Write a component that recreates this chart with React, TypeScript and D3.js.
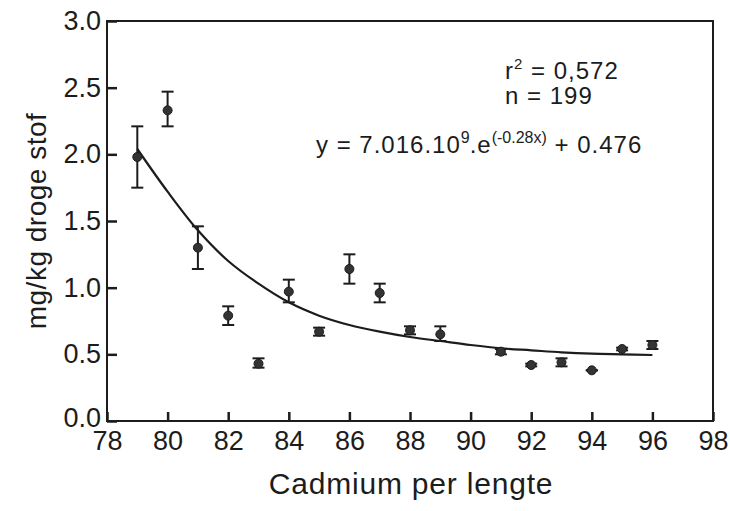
import React, { useRef, useEffect } from "react";
import * as d3 from "d3";

// mean values per length class
const lengths = [79, 80, 81, 82, 83, 84, 85, 86, 87, 88, 89, 91, 92, 93, 94, 95, 96];
const means = [1.98, 2.33, 1.3, 0.79, 0.43, 0.97, 0.67, 1.14, 0.96, 0.68, 0.65, 0.52, 0.42, 0.44, 0.38, 0.54, 0.57];
const upper = [2.21, 2.47, 1.46, 0.86, 0.47, 1.06, 0.7, 1.25, 1.03, 0.71, 0.71, 0.54, 0.43, 0.47, 0.38, 0.55, 0.6];
const lower = [1.75, 2.21, 1.14, 0.72, 0.4, 0.89, 0.64, 1.03, 0.89, 0.65, 0.6, 0.5, 0.41, 0.41, 0.38, 0.53, 0.54];

// fitted exponential curve as drawn
const fitX = [79, 80, 81, 82, 83, 84, 85, 86, 87, 88, 89, 90, 91, 92, 93, 94, 95, 96];
const fitY = [2.04, 1.72, 1.43, 1.2, 1.03, 0.89, 0.79, 0.72, 0.67, 0.63, 0.6, 0.57, 0.545, 0.53, 0.515, 0.505, 0.5, 0.495];

const xTicks = [78, 80, 82, 84, 86, 88, 90, 92, 94, 96, 98];
const yTicks = [0, 0.5, 1, 1.5, 2, 2.5, 3];

export default function App() {
  const ref = useRef<SVGSVGElement>(null);

  useEffect(() => {
    const width = 730, height = 511;
    const left = 107, right = 713, top = 21, bottom = 421;
    const ink = "#1c1c1c";
    const font = "'Liberation Sans', Arial, sans-serif";

    const svg = d3.select(ref.current);
    svg.selectAll("*").remove();
    svg.attr("width", width).attr("height", height);

    const x = d3.scaleLinear().domain([78, 98]).range([left, right]);
    const y = d3.scaleLinear().domain([0, 3]).range([bottom, top]);

    // x axis, ticks pointing inward
    const gx = svg.append("g")
      .attr("transform", `translate(0,${bottom})`)
      .call(d3.axisBottom(x).tickValues(xTicks).tickSize(-9).tickPadding(8).tickFormat(d3.format("d")));
    gx.select(".domain").remove();
    gx.selectAll("line").attr("stroke", ink).attr("stroke-width", 2.5);
    gx.selectAll("text").attr("fill", ink).style("font-family", font).style("font-size", "27px").attr("dy", "0.76em");

    const gy = svg.append("g")
      .attr("transform", `translate(${left},0)`)
      .call(d3.axisLeft(y).tickValues(yTicks).tickSize(-10).tickPadding(6).tickFormat(d3.format(".1f")));
    gy.select(".domain").remove();
    gy.selectAll("line").attr("stroke", ink).attr("stroke-width", 2.5);
    gy.selectAll("text").attr("fill", ink).style("font-family", font).style("font-size", "27px");
    // the 0.0 label sits just above the 78 label, as in the scan
    gy.selectAll("text").filter(d => d === 0).attr("dy", "0.2em");

    // frame
    svg.append("rect")
      .attr("x", left).attr("y", top)
      .attr("width", right - left).attr("height", bottom - top)
      .attr("fill", "none").attr("stroke", ink).attr("stroke-width", 2);

    // fitted curve
    const line = d3.line<number>()
      .x((d, i) => x(fitX[i]))
      .y(d => y(d))
      .curve(d3.curveCatmullRom);
    svg.append("path")
      .attr("d", line(fitY))
      .attr("fill", "none").attr("stroke", ink).attr("stroke-width", 2.2);

    // error bars
    const capW = 6;
    const pts = svg.append("g").selectAll("g").data(lengths).enter().append("g");
    pts.append("line")
      .attr("x1", d => x(d)).attr("x2", d => x(d))
      .attr("y1", (d, i) => y(upper[i])).attr("y2", (d, i) => y(lower[i]))
      .attr("stroke", ink).attr("stroke-width", 2);
    pts.append("line")
      .attr("x1", d => x(d) - capW).attr("x2", d => x(d) + capW)
      .attr("y1", (d, i) => y(upper[i])).attr("y2", (d, i) => y(upper[i]))
      .attr("stroke", ink).attr("stroke-width", 2);
    pts.append("line")
      .attr("x1", d => x(d) - capW).attr("x2", d => x(d) + capW)
      .attr("y1", (d, i) => y(lower[i])).attr("y2", (d, i) => y(lower[i]))
      .attr("stroke", ink).attr("stroke-width", 2);
    pts.append("circle")
      .attr("cx", d => x(d)).attr("cy", (d, i) => y(means[i]))
      .attr("r", 4.5).attr("fill", "#333").attr("stroke", ink).attr("stroke-width", 1);

    // axis titles
    svg.append("text")
      .attr("x", 411).attr("y", 494)
      .attr("text-anchor", "middle").attr("fill", ink)
      .style("font-family", font).style("font-size", "30px").style("letter-spacing", "0.8px")
      .text("Cadmium per lengte");
    svg.append("text")
      .attr("transform", `translate(46,${(top + bottom) / 2}) rotate(-90)`)
      .attr("text-anchor", "middle").attr("fill", ink)
      .style("font-family", font).style("font-size", "28px").style("letter-spacing", "0.5px")
      .text("mg/kg droge stof");

    // annotations
    const ann = svg.append("g").attr("fill", ink).style("font-family", font)
      .style("font-size", "24px").style("letter-spacing", "1px");
    const r2 = ann.append("text").attr("x", 505).attr("y", 79);
    r2.append("tspan").text("r");
    r2.append("tspan").attr("dy", -10).style("font-size", "15px").text("2");
    r2.append("tspan").attr("dy", 10).text(" =  0,572");
    ann.append("text").attr("x", 505).attr("y", 104).text("n =  199");
    const eq = ann.append("text").attr("x", 316).attr("y", 153);
    eq.append("tspan").text("y =  7.016.10");
    eq.append("tspan").attr("dy", -10).style("font-size", "16px").style("letter-spacing", "0px").text("9");
    eq.append("tspan").attr("dy", 10).text(".e");
    eq.append("tspan").attr("dy", -10).style("font-size", "16px").style("letter-spacing", "0px").text("(-0.28x)");
    eq.append("tspan").attr("dy", 10).text(" + 0.476");
  }, []);

  return (
    <svg ref={ref} style={{ position: "absolute", left: 0, top: 0, background: "#fff" }}></svg>
  );
}
